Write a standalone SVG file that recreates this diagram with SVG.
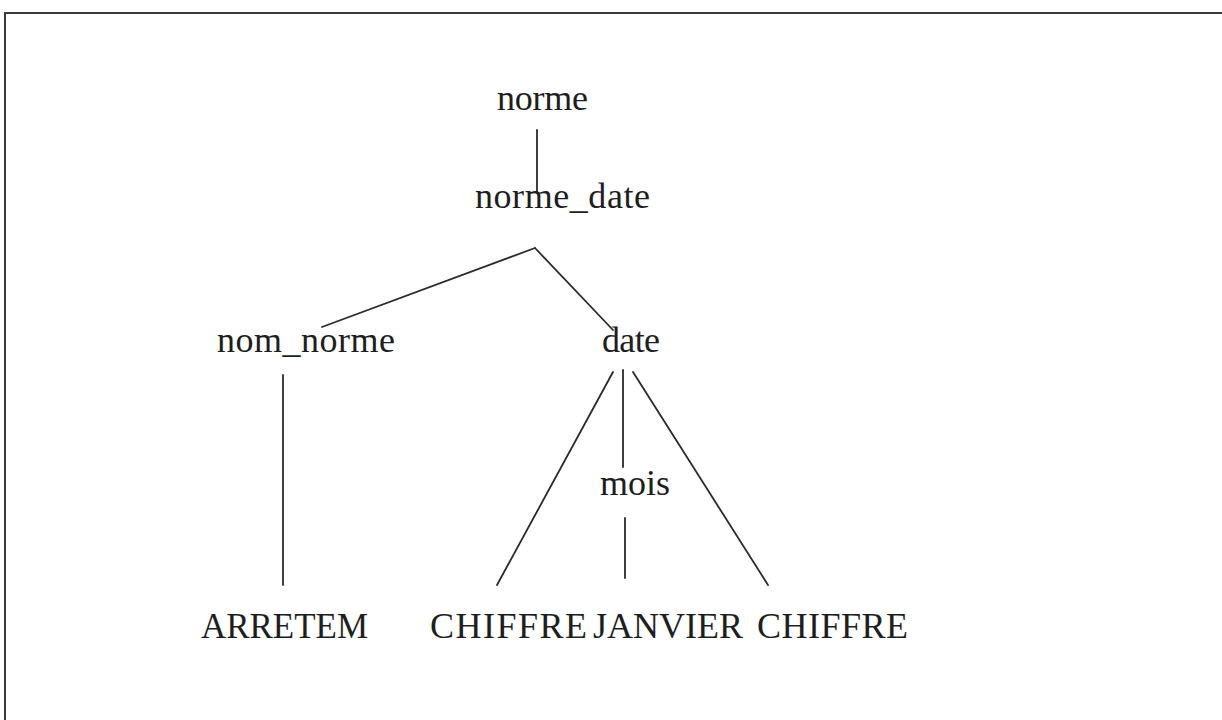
<svg xmlns="http://www.w3.org/2000/svg" width="1222" height="720" viewBox="0 0 1222 720">
  <style>
    .frame { stroke: #3a3a3a; stroke-width: 2; fill: none; }
    .edge { stroke: #2a2a2a; stroke-width: 1.8; fill: none; stroke-linecap: round; }
    .lbl { font-family: "Liberation Serif", "Times New Roman", serif; font-size: 36px; fill: #1e1e1e; }
  </style>
  <rect width="1222" height="720" fill="#ffffff"/>
  <!-- page frame: top and left rules -->
  <path class="frame" d="M5,720 V13 H1222"/>

  <g id="connectors">
    <line class="edge" x1="537" y1="130" x2="537" y2="192"/>
    <line class="edge" x1="535" y1="248" x2="322" y2="327"/>
    <line class="edge" x1="535" y1="248" x2="613" y2="330"/>
    <line class="edge" x1="283" y1="375" x2="283" y2="585"/>
    <line class="edge" x1="613" y1="372" x2="497" y2="585"/>
    <line class="edge" x1="623" y1="370" x2="623" y2="467"/>
    <line class="edge" x1="633" y1="372" x2="768" y2="585"/>
    <line class="edge" x1="625" y1="518" x2="625" y2="578"/>
  </g>

  <g id="n-norme"><text class="lbl" x="497" y="110" textLength="91">norme</text></g>
  <g id="n-norme_date"><text class="lbl" x="475" y="208" textLength="175">norme_date</text></g>
  <g id="n-nom_norme"><text class="lbl" x="217" y="352" textLength="178">nom_norme</text></g>
  <g id="n-date"><text class="lbl" x="602" y="352" textLength="58">date</text></g>
  <g id="n-mois"><text class="lbl" x="600" y="495" textLength="70">mois</text></g>
  <g id="n-arretem"><text class="lbl" x="201" y="638" textLength="167" lengthAdjust="spacingAndGlyphs">ARRETEM</text></g>
  <g id="n-chiffre1"><text class="lbl" x="430" y="638" textLength="157">CHIFFRE</text></g>
  <g id="n-janvier"><text class="lbl" x="593" y="638" textLength="150">JANVIER</text></g>
  <g id="n-chiffre2"><text class="lbl" x="757" y="638" textLength="151">CHIFFRE</text></g>
</svg>
